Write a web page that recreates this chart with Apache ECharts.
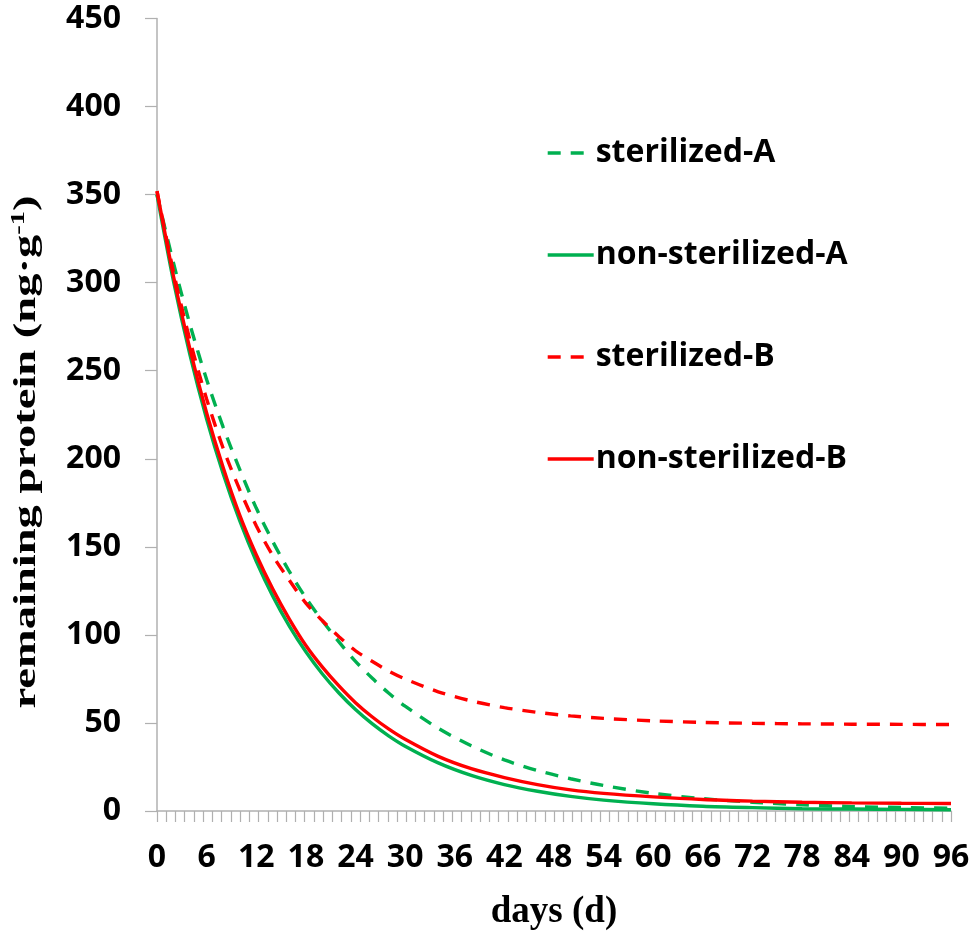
<!DOCTYPE html>
<html>
<head>
<meta charset="utf-8">
<script src="https://cdn.jsdelivr.net/npm/echarts@6/dist/echarts.min.js"></script>
<style>
html,body{margin:0;padding:0;background:#fff;}
#chart{width:975px;height:935px;}
</style>
</head>
<body>
<div id="chart"></div>
<script>
// ---- data ----
var days = [0,2,4,6,8,10,12,14,16,18,20,22,24,26,28,30,34,38,42,46,50,54,60,66,72,78,84,90,96];
var sterilizedA    = [350,311,276,245,218,194,172,153,136,121,108,96,85,75.5,67,59.5,47,37,29,23,18.3,14.5,10,7,5,3.5,2.5,2,1.5];
var nonSterilizedA = [350,300.7,258.7,222.6,191.5,164.8,141.8,122,105,90.4,77.8,67,57.6,49.6,42.7,36.8,27.3,20.2,15,11.2,8.3,6.2,4.1,2.7,1.9,1.3,1.1,0.9,0.7];
var sterilizedB    = [352,306,267,234,206,182.5,162,145,131,118,108,99,91,85,79.5,75,67.7,62.5,58.7,56,54,52.6,51.2,50.3,49.8,49.5,49.3,49.2,49.1];
var nonSterilizedB = [352,303.5,262,226,195,168,145.5,126,109,94,81.7,71,61.5,53.5,46.6,40.7,31,24,19,15,12,10,8,6.5,5.6,5,4.6,4.4,4.3];
var seriesNames = ['sterilized-A','non-sterilized-A','sterilized-B','non-sterilized-B'];
var xTitle = 'days (d)';
var yTitleMain = 'remaining protein (ng·g';
var yTitleSup = '-1';
var yTitleEnd = ')';

function pairs(vals){ return days.map(function(d,i){ return [d, vals[i]]; }); }

var GREEN = '#00B050', RED = '#FF0000', AXIS = '#b0b0b0';
var labelFont = {fontFamily:'Open Sans', fontWeight:'bold', fontSize:32, color:'#000'};

function mkSeries(name, vals, color, dashed){
  return {
    name: name, type:'line', data: pairs(vals), smooth: 0.3,
    symbol:'none', showSymbol:false,
    lineStyle:{color:color, width:3.4, type: dashed ? [13,10] : 'solid'},
    itemStyle:{color:color},
    xAxisIndex:0, yAxisIndex:0
  };
}

var chart = echarts.init(document.getElementById('chart'));
chart.setOption({
  animation:false,
  backgroundColor:'#fff',
  grid:{left:157, right:24, top:18.5, bottom:124, containLabel:false, outerBoundsMode:'none'},
  legend:{
    orient:'vertical', left:541, top:128,
    itemWidth:46, itemHeight:14, itemGap:62,
    data: seriesNames,
    itemStyle:{opacity:0, color:'rgba(0,0,0,0)', borderWidth:0},
    lineStyle:{width:3.4},
    textStyle:{fontFamily:'Open Sans', fontWeight:'bold', fontSize:32, color:'#000', lineHeight:40, padding:[0,0,0,-3]}
  },
  xAxis:[{
    type:'value', min:0, max:96, interval:6,
    axisLine:{show:true, lineStyle:{color:AXIS, width:1.5}},
    axisTick:{show:false},
    splitLine:{show:false},
    axisLabel:Object.assign({margin:31}, labelFont),
    name:xTitle, nameLocation:'middle', nameGap:83,
    nameTextStyle:{fontFamily:'Liberation Serif', fontWeight:'bold', fontSize:37, color:'#000'}
  },{
    type:'value', min:0, max:86, interval:1, position:'bottom',
    axisLine:{show:false},
    axisTick:{show:true, inside:false, length:11, lineStyle:{color:AXIS, width:1.2}},
    axisLabel:{show:false},
    splitLine:{show:false}
  }],
  yAxis:{
    type:'value', min:0, max:450, interval:50,
    axisLine:{show:true, lineStyle:{color:AXIS, width:1.5}},
    axisTick:{show:true, inside:false, length:12, lineStyle:{color:AXIS, width:1.2}},
    splitLine:{show:false},
    axisLabel:Object.assign({margin:36}, labelFont)
  },
  graphic:[{
    type:'text', x:27, y:452, rotation:Math.PI/2, scaleX:1.5, scaleY:1,
    style:{
      text:'{a|'+yTitleMain+'}{s|'+yTitleSup+'}{a|'+yTitleEnd+'}',
      align:'center', verticalAlign:'middle',
      rich:{
        a:{fontFamily:'Liberation Serif', fontWeight:'bold', fontSize:31, fill:'#000', lineHeight:35},
        s:{fontFamily:'Liberation Serif', fontWeight:'bold', fontSize:19, fill:'#000', lineHeight:35, verticalAlign:'top'}
      }
    }
  }],
  series:[
    mkSeries(seriesNames[0], sterilizedA, GREEN, true),
    mkSeries(seriesNames[1], nonSterilizedA, GREEN, false),
    mkSeries(seriesNames[2], sterilizedB, RED, true),
    mkSeries(seriesNames[3], nonSterilizedB, RED, false)
  ]
});
</script>
</body>
</html>
